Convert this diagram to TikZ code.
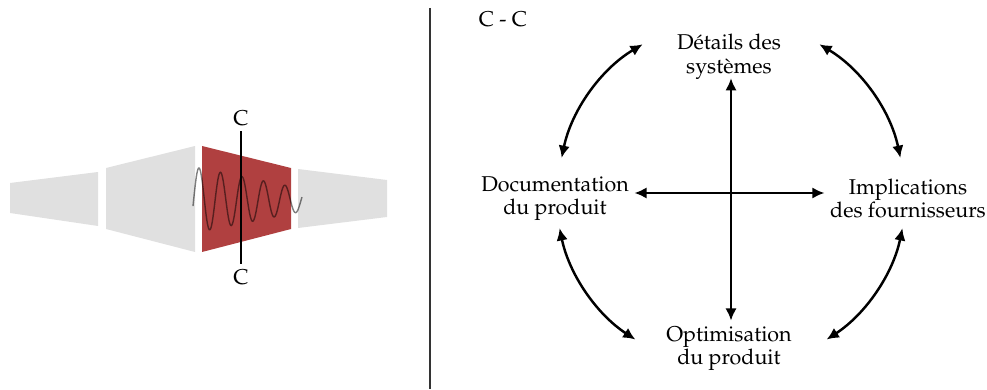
\documentclass[tikz,border=0pt]{standalone}
\usepackage[T1]{fontenc}
\usepackage{mathpazo}
\usepackage{xcolor}
\usetikzlibrary{positioning, arrows.meta}
\definecolor{seggray}{HTML}{E0E0E0}
\definecolor{segred}{HTML}{B04040}
\definecolor{sepgray}{HTML}{333333}

\begin{document}
\begin{tikzpicture}[
    x=0.02cm, y=0.02cm,
    txt/.style={font=\fontsize{12.2}{13.4}\selectfont, align=center, inner sep=3pt},
    arrow/.style={{Latex[length=7pt,width=6.5pt]}-{Latex[length=7pt,width=6.5pt]}, line width=1.4pt},
    seg/.style={fill=seggray}
  ]
    \useasboundingbox (0,0) rectangle (987,389);
    % left: the section
    \fill[seg] (10,206) -- (10,176) -- (98,163) -- (98,217) -- cycle;
    \fill[seg] (106,221) -- (106,160) -- (195,137) -- (195,243) -- cycle;
    \fill[segred] (202,243) -- (202,137) -- (291,160) -- (291,221) -- cycle;
    \fill[seg] (298,220) -- (298,161) -- (387,172) -- (387,209) -- cycle;
    \draw[black, opacity=0.5, line width=0.8pt] plot[domain=193:302, samples=220, smooth]
      (\x, {189 + (32-0.2*(\x-199))*cos(16.744*(\x-199))});
    \node[txt] (ctop) at (241,271) {C};
    \node[txt] (cbot) at (241,112) {C};
    \draw[line width=0.7pt] (ctop) -- (cbot);
    \draw[sepgray, line width=0.8pt] (430,381) -- (430,0);
    % right: C - C
    \node[txt] (title) at (503,370) {C - C};
    \coordinate (c) at (731,196);
    \node[txt] (details) at (729,332) {Détails des\\systèmes};
    \node[txt] (docu)    at (555,190.5) {Documentation\\du produit};
    \node[txt] (impl)    at (908,190.5) {Implications\\des fournisseurs};
    \node[txt] (optim)   at (729,40.5) {Optimisation\\du produit};
    \draw[arrow, shorten <=-4pt] (details.south -| c) -- (optim.north -| c);
    \draw[arrow] (docu.east |- c) -- (impl.west |- c);
    \draw[arrow] ([shift={(168.3:3.46cm)}]c) arc[start angle=168.3, end angle=120.7, radius=3.46cm];
    \draw[arrow] ([shift={(59.3:3.46cm)}]c) arc[start angle=59.3, end angle=11.7, radius=3.46cm];
    \draw[arrow] ([shift={(191.6:3.5cm)}]c) arc[start angle=191.6, end angle=236.9, radius=3.5cm];
    \draw[arrow] ([shift={(348.4:3.5cm)}]c) arc[start angle=348.4, end angle=303.1, radius=3.5cm];
  \end{tikzpicture}
\end{document}
